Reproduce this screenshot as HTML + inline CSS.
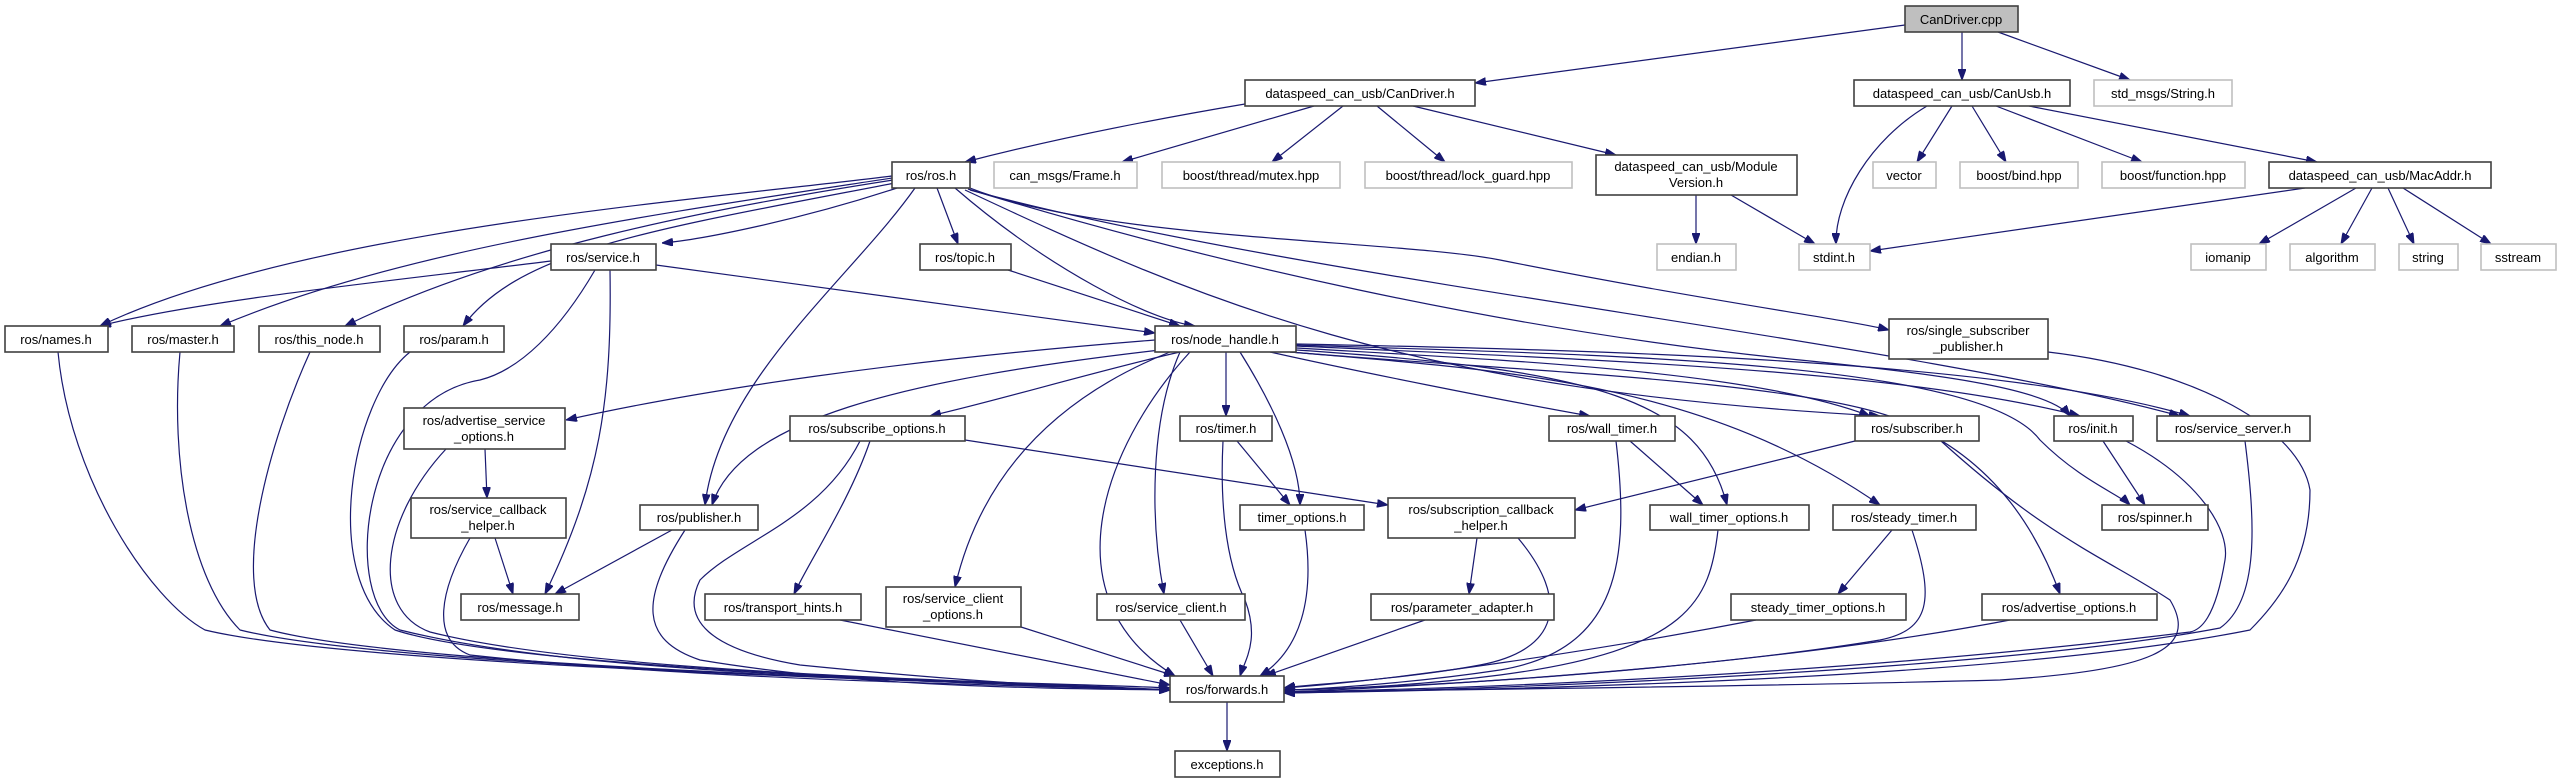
<!DOCTYPE html>
<html><head><meta charset="utf-8"><style>
html,body{margin:0;padding:0;background:#fff;}
svg{display:block;}
text{font-family:"Liberation Sans",sans-serif;font-size:13px;fill:#000;}
.n{fill:#fff;stroke:#404040;stroke-width:1.6;}
.g{fill:#fff;stroke:#bfbfbf;stroke-width:1.6;}
path.e{fill:none;stroke:#191970;stroke-width:1.2;}
</style></head><body>
<svg width="2562" height="783" viewBox="0 0 2562 783" xmlns="http://www.w3.org/2000/svg">
<defs><marker id="a" markerWidth="11" markerHeight="8" refX="11" refY="4" orient="auto" markerUnits="userSpaceOnUse"><path d="M0,0 L11,4 L0,8 z" fill="#191970" stroke="#191970"/></marker></defs>
<g marker-end="url(#a)">
<path class="e" d="M1905 25 L1475 83"/>
<path class="e" d="M1962 32 L1962 80"/>
<path class="e" d="M1998 32 L2130 80"/>
<path class="e" d="M1245 104 C1150 120 1050 140 965 162"/>
<path class="e" d="M1314 106 L1122 162"/>
<path class="e" d="M1343 106 L1272 162"/>
<path class="e" d="M1377 106 L1445 162"/>
<path class="e" d="M1413 106 L1616 155"/>
<path class="e" d="M1927 106 C1870 140 1835 200 1836 244"/>
<path class="e" d="M1952 106 L1917 162"/>
<path class="e" d="M1972 106 L2006 162"/>
<path class="e" d="M1996 106 L2142 162"/>
<path class="e" d="M2029 106 L2317 162"/>
<path class="e" d="M1696 195 L1696 244"/>
<path class="e" d="M1731 195 L1815 244"/>
<path class="e" d="M2305 188 L1870 251"/>
<path class="e" d="M2356 188 L2259 244"/>
<path class="e" d="M2372 188 L2341 244"/>
<path class="e" d="M2388 188 L2414 244"/>
<path class="e" d="M2403 188 L2491 244"/>
<path class="e" d="M892 176 C700 200 300 230 100 326"/>
<path class="e" d="M892 178 C650 215 400 250 220 326"/>
<path class="e" d="M893 180 C700 210 500 250 345 326"/>
<path class="e" d="M895 183 C650 230 520 250 463 326"/>
<path class="e" d="M897 188 C800 220 700 240 662 243"/>
<path class="e" d="M915 188 C850 280 720 380 705 505"/>
<path class="e" d="M937 188 L958 244"/>
<path class="e" d="M955 188 C1050 270 1150 320 1195 326"/>
<path class="e" d="M970 188 C1100 240 1400 240 1500 260 C1700 300 1850 320 1889 330"/>
<path class="e" d="M970 190 C1300 280 1900 340 2180 416"/>
<path class="e" d="M965 190 C1200 300 1400 390 1880 416"/>
<path class="e" d="M968 189 C1200 260 1500 330 1800 360 C1950 375 2050 390 2070 416"/>
<path class="e" d="M1155 340 C900 360 700 390 566 420"/>
<path class="e" d="M1180 352 C1100 370 1000 400 930 416"/>
<path class="e" d="M1160 350 C900 380 740 420 712 505"/>
<path class="e" d="M1170 352 C1050 400 980 480 955 587"/>
<path class="e" d="M1190 352 C1100 450 1050 600 1175 676"/>
<path class="e" d="M1180 352 C1150 420 1150 520 1164 594"/>
<path class="e" d="M1226 352 L1226 416"/>
<path class="e" d="M1240 352 C1270 400 1300 460 1300 505"/>
<path class="e" d="M1270 352 C1350 370 1500 400 1590 416"/>
<path class="e" d="M1296 350 C1600 370 1700 400 1727 505"/>
<path class="e" d="M1296 348 C1500 360 1750 370 1870 416"/>
<path class="e" d="M1290 352 C1500 370 1700 380 1880 505"/>
<path class="e" d="M1290 352 C1500 370 1800 380 1900 420 C2000 460 2040 540 2060 594"/>
<path class="e" d="M1296 346 C1600 360 1900 370 2080 416"/>
<path class="e" d="M1296 345 C1600 355 1980 360 2040 440 C2080 480 2120 495 2130 505"/>
<path class="e" d="M1296 344 C1600 350 2000 360 2190 416"/>
<path class="e" d="M551 261 C400 280 200 300 100 326"/>
<path class="e" d="M656 265 L1155 333"/>
<path class="e" d="M610 270 C612 400 600 480 545 594"/>
<path class="e" d="M595 270 C560 330 520 370 480 380 C360 400 340 600 400 630 C600 680 1000 680 1170 688"/>
<path class="e" d="M58 352 C70 480 150 600 205 630 C350 665 900 680 1170 690"/>
<path class="e" d="M180 352 C170 460 190 580 240 630 C380 665 900 680 1170 690"/>
<path class="e" d="M310 352 C270 440 230 580 270 630 C400 665 900 680 1170 690"/>
<path class="e" d="M410 352 C350 400 320 580 395 630 C500 665 900 680 1170 690"/>
<path class="e" d="M485 449 L487 498"/>
<path class="e" d="M446 449 C380 520 370 610 430 632 C600 675 1000 680 1170 690"/>
<path class="e" d="M495 538 L513 594"/>
<path class="e" d="M470 538 C440 590 430 640 470 655 C700 680 1000 685 1170 690"/>
<path class="e" d="M672 530 L555 594"/>
<path class="e" d="M685 530 C640 600 640 640 700 660 C850 685 1000 688 1170 690"/>
<path class="e" d="M1008 270 L1180 326"/>
<path class="e" d="M870 441 C850 500 810 560 794 594"/>
<path class="e" d="M965 440 L1388 505"/>
<path class="e" d="M860 441 C820 520 740 540 700 580 C680 620 710 650 800 665 C1000 685 1100 688 1170 690"/>
<path class="e" d="M840 620 L1170 685"/>
<path class="e" d="M1021 627 L1175 676"/>
<path class="e" d="M1180 620 L1213 676"/>
<path class="e" d="M1237 441 L1290 505"/>
<path class="e" d="M1223 441 C1220 500 1225 560 1245 600 C1260 640 1245 660 1240 676"/>
<path class="e" d="M1305 530 C1315 600 1300 650 1260 676"/>
<path class="e" d="M1477 538 L1469 594"/>
<path class="e" d="M1518 538 C1570 600 1560 650 1480 665 C1400 680 1300 685 1284 688"/>
<path class="e" d="M1425 620 L1265 676"/>
<path class="e" d="M1630 441 L1703 505"/>
<path class="e" d="M1616 441 C1630 560 1620 650 1500 670 C1400 685 1300 690 1284 690"/>
<path class="e" d="M1718 530 C1710 600 1690 650 1500 675 C1400 688 1300 690 1284 690"/>
<path class="e" d="M1855 441 L1575 510"/>
<path class="e" d="M1941 441 C2050 540 2110 560 2170 600 C2200 650 2150 670 2000 680 C1700 688 1400 690 1284 692"/>
<path class="e" d="M1892 530 L1838 594"/>
<path class="e" d="M1912 530 C1935 600 1930 630 1880 640 C1700 670 1400 688 1284 692"/>
<path class="e" d="M1756 620 C1600 650 1400 680 1284 688"/>
<path class="e" d="M2010 620 C1800 660 1500 685 1284 690"/>
<path class="e" d="M2103 441 L2145 505"/>
<path class="e" d="M2126 441 C2200 480 2230 530 2225 560 C2215 620 2200 630 2190 632 C1800 680 1400 690 1284 692"/>
<path class="e" d="M2245 441 C2255 520 2260 600 2220 628 C2000 670 1500 690 1284 693"/>
<path class="e" d="M2048 352 C2200 370 2300 430 2310 490 C2310 560 2280 600 2250 630 C2000 680 1500 690 1284 693"/>
<path class="e" d="M1227 702 L1227 751"/>
</g>
<g>
<rect x="1905" y="6" width="113" height="26" fill="#bfbfbf" stroke="#404040" stroke-width="1.6"/><text x="1961" y="24" text-anchor="middle">CanDriver.cpp</text>
<rect class="n" x="1245" y="80" width="230" height="26"/><text x="1360" y="98" text-anchor="middle">dataspeed_can_usb/CanDriver.h</text>
<rect class="n" x="1854" y="80" width="216" height="26"/><text x="1962" y="98" text-anchor="middle">dataspeed_can_usb/CanUsb.h</text>
<rect class="g" x="2094" y="80" width="138" height="26"/><text x="2163" y="98" text-anchor="middle">std_msgs/String.h</text>
<rect class="n" x="892" y="162" width="78" height="26"/><text x="931" y="180" text-anchor="middle">ros/ros.h</text>
<rect class="g" x="994" y="162" width="143" height="26"/><text x="1065" y="180" text-anchor="middle">can_msgs/Frame.h</text>
<rect class="g" x="1162" y="162" width="178" height="26"/><text x="1251" y="180" text-anchor="middle">boost/thread/mutex.hpp</text>
<rect class="g" x="1365" y="162" width="207" height="26"/><text x="1468" y="180" text-anchor="middle">boost/thread/lock_guard.hpp</text>
<rect class="n" x="1596" y="155" width="201" height="40"/><text x="1696" y="171" text-anchor="middle">dataspeed_can_usb/Module</text><text x="1696" y="187" text-anchor="middle">Version.h</text>
<rect class="g" x="1873" y="162" width="63" height="26"/><text x="1904" y="180" text-anchor="middle">vector</text>
<rect class="g" x="1960" y="162" width="118" height="26"/><text x="2019" y="180" text-anchor="middle">boost/bind.hpp</text>
<rect class="g" x="2102" y="162" width="143" height="26"/><text x="2173" y="180" text-anchor="middle">boost/function.hpp</text>
<rect class="n" x="2269" y="162" width="222" height="26"/><text x="2380" y="180" text-anchor="middle">dataspeed_can_usb/MacAddr.h</text>
<rect class="g" x="1799" y="244" width="71" height="26"/><text x="1834" y="262" text-anchor="middle">stdint.h</text>
<rect class="g" x="1657" y="244" width="79" height="26"/><text x="1696" y="262" text-anchor="middle">endian.h</text>
<rect class="g" x="2191" y="244" width="75" height="26"/><text x="2228" y="262" text-anchor="middle">iomanip</text>
<rect class="g" x="2290" y="244" width="85" height="26"/><text x="2332" y="262" text-anchor="middle">algorithm</text>
<rect class="g" x="2399" y="244" width="59" height="26"/><text x="2428" y="262" text-anchor="middle">string</text>
<rect class="g" x="2481" y="244" width="75" height="26"/><text x="2518" y="262" text-anchor="middle">sstream</text>
<rect class="n" x="551" y="244" width="105" height="26"/><text x="603" y="262" text-anchor="middle">ros/service.h</text>
<rect class="n" x="920" y="244" width="91" height="26"/><text x="965" y="262" text-anchor="middle">ros/topic.h</text>
<rect class="n" x="1889" y="319" width="159" height="40"/><text x="1968" y="335" text-anchor="middle">ros/single_subscriber</text><text x="1968" y="351" text-anchor="middle">_publisher.h</text>
<rect class="n" x="5" y="326" width="103" height="26"/><text x="56" y="344" text-anchor="middle">ros/names.h</text>
<rect class="n" x="132" y="326" width="102" height="26"/><text x="183" y="344" text-anchor="middle">ros/master.h</text>
<rect class="n" x="259" y="326" width="121" height="26"/><text x="319" y="344" text-anchor="middle">ros/this_node.h</text>
<rect class="n" x="404" y="326" width="100" height="26"/><text x="454" y="344" text-anchor="middle">ros/param.h</text>
<rect class="n" x="1155" y="326" width="141" height="26"/><text x="1225" y="344" text-anchor="middle">ros/node_handle.h</text>
<rect class="n" x="404" y="408" width="161" height="41"/><text x="484" y="425" text-anchor="middle">ros/advertise_service</text><text x="484" y="441" text-anchor="middle">_options.h</text>
<rect class="n" x="790" y="416" width="175" height="25"/><text x="877" y="433" text-anchor="middle">ros/subscribe_options.h</text>
<rect class="n" x="1180" y="416" width="92" height="25"/><text x="1226" y="433" text-anchor="middle">ros/timer.h</text>
<rect class="n" x="1549" y="416" width="126" height="25"/><text x="1612" y="433" text-anchor="middle">ros/wall_timer.h</text>
<rect class="n" x="1855" y="416" width="124" height="25"/><text x="1917" y="433" text-anchor="middle">ros/subscriber.h</text>
<rect class="n" x="2054" y="416" width="79" height="25"/><text x="2093" y="433" text-anchor="middle">ros/init.h</text>
<rect class="n" x="2157" y="416" width="153" height="25"/><text x="2233" y="433" text-anchor="middle">ros/service_server.h</text>
<rect class="n" x="411" y="498" width="155" height="40"/><text x="488" y="514" text-anchor="middle">ros/service_callback</text><text x="488" y="530" text-anchor="middle">_helper.h</text>
<rect class="n" x="640" y="505" width="118" height="25"/><text x="699" y="522" text-anchor="middle">ros/publisher.h</text>
<rect class="n" x="1240" y="505" width="124" height="25"/><text x="1302" y="522" text-anchor="middle">timer_options.h</text>
<rect class="n" x="1388" y="498" width="187" height="40"/><text x="1481" y="514" text-anchor="middle">ros/subscription_callback</text><text x="1481" y="530" text-anchor="middle">_helper.h</text>
<rect class="n" x="1650" y="505" width="159" height="25"/><text x="1729" y="522" text-anchor="middle">wall_timer_options.h</text>
<rect class="n" x="1833" y="505" width="143" height="25"/><text x="1904" y="522" text-anchor="middle">ros/steady_timer.h</text>
<rect class="n" x="2102" y="505" width="106" height="25"/><text x="2155" y="522" text-anchor="middle">ros/spinner.h</text>
<rect class="n" x="461" y="594" width="118" height="26"/><text x="520" y="612" text-anchor="middle">ros/message.h</text>
<rect class="n" x="705" y="594" width="156" height="26"/><text x="783" y="612" text-anchor="middle">ros/transport_hints.h</text>
<rect class="n" x="886" y="587" width="135" height="40"/><text x="953" y="603" text-anchor="middle">ros/service_client</text><text x="953" y="619" text-anchor="middle">_options.h</text>
<rect class="n" x="1097" y="594" width="148" height="26"/><text x="1171" y="612" text-anchor="middle">ros/service_client.h</text>
<rect class="n" x="1371" y="594" width="183" height="26"/><text x="1462" y="612" text-anchor="middle">ros/parameter_adapter.h</text>
<rect class="n" x="1731" y="594" width="175" height="26"/><text x="1818" y="612" text-anchor="middle">steady_timer_options.h</text>
<rect class="n" x="1982" y="594" width="175" height="26"/><text x="2069" y="612" text-anchor="middle">ros/advertise_options.h</text>
<rect class="n" x="1170" y="676" width="114" height="26"/><text x="1227" y="694" text-anchor="middle">ros/forwards.h</text>
<rect class="n" x="1175" y="751" width="105" height="26"/><text x="1227" y="769" text-anchor="middle">exceptions.h</text>
</g>
</svg>
</body></html>
